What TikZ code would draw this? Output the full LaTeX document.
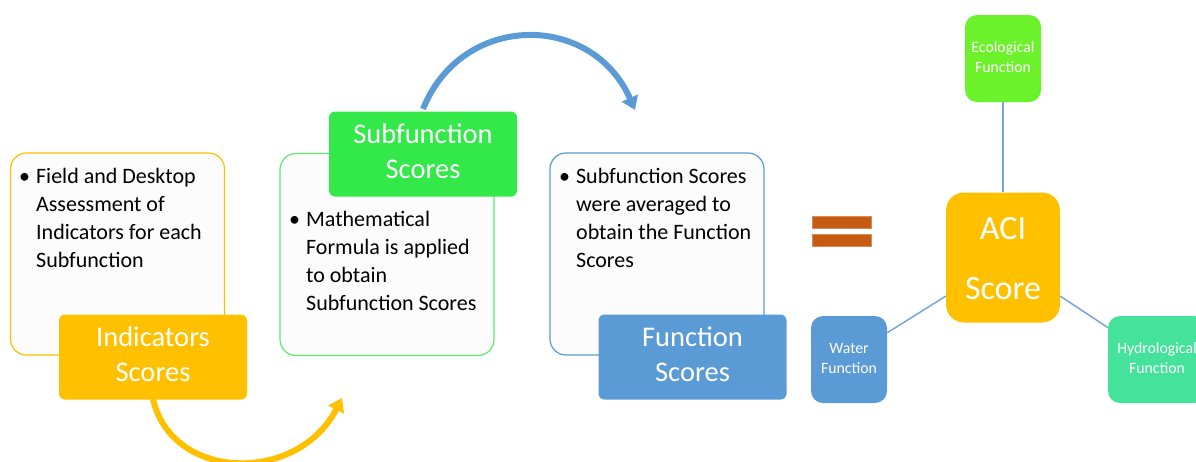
\documentclass[tikz,border=0pt]{standalone}
\usepackage{fontspec}
\setmainfont{Carlito}
\usetikzlibrary{arrows.meta}
\definecolor{cyel}{HTML}{FFC000}
\definecolor{cgreen}{HTML}{33E849}
\definecolor{cgreenline}{HTML}{5BEA6E}
\definecolor{cblue}{HTML}{5B9BD5}
\definecolor{ceco}{HTML}{6BF22A}
\definecolor{chyd}{HTML}{45E29B}
\definecolor{cequal}{HTML}{C55A11}
\definecolor{clink}{HTML}{7BA3D6}
\definecolor{boxfill}{HTML}{FCFCFC}
\begin{document}
\begin{tikzpicture}[x=1pt,y=-1pt,
  txtbox/.style={draw, line width=1.2pt, fill=boxfill, rounded corners=16pt,
    minimum width=214pt, minimum height=202pt, inner sep=0pt},
  bodytext/.style={anchor=base west, inner sep=0pt, font=\fontsize{22}{28}\selectfont, text=black},
  titlebox/.style={rounded corners=6pt, minimum width=188pt, minimum height=85pt,
    inner sep=0pt, text=white, font=\fontsize{28.5}{35}\selectfont},
  smallbox/.style={rounded corners=12pt, minimum width=76pt, minimum height=87pt,
    inner sep=0pt, text=white, font=\fontsize{15.8}{20.5}\selectfont},
  bigarrow/.style={line width=6pt, -{Triangle[width=17pt,length=13pt]}},
  linkline/.style={draw=clink, line width=1.5pt},
  eqbar/.style={fill=cequal, draw=cequal!70!white, line width=0.8pt, minimum width=59pt, minimum height=12pt, inner sep=0pt}
]
\clip (0,0) rectangle (1196,461);

% step 1
\node[txtbox, draw=cyel] (box1) at (117.5,254) {};
\node[bodytext] (t1) at (19,183) {\begin{tabular}[t]{@{}l@{\hspace{6pt}}l@{}}\textbullet & Field and Desktop\\ & Assessment of\\ & Indicators for each\\ & Subfunction\end{tabular}};
\node[titlebox, fill=cyel] (ind) at (153,357) {\begin{tabular}{@{}c@{}}Indicators\\Scores\end{tabular}};

% step 2
\node[txtbox, draw=cgreenline] (box2) at (387,254.5) {};
\node[bodytext] (t2) at (289,226) {\begin{tabular}[t]{@{}l@{\hspace{6pt}}l@{}}\textbullet & Mathematical\\ & Formula is applied\\ & to obtain\\ & Subfunction Scores\end{tabular}};
\node[titlebox, fill=cgreen] (sub) at (423,154) {\begin{tabular}{@{}c@{}}Subfunction\\Scores\end{tabular}};

% step 3
\node[txtbox, draw=cblue] (box3) at (657,254) {};
\node[bodytext] (t3) at (559,183) {\begin{tabular}[t]{@{}l@{\hspace{6pt}}l@{}}\textbullet & Subfunction Scores\\ & were averaged to\\ & obtain the Function\\ & Scores\end{tabular}};
\node[titlebox, fill=cblue] (fun) at (692.5,357) {\begin{tabular}{@{}c@{}}Function\\Scores\end{tabular}};

% arrows
\coordinate (ya) at (153,399);
\coordinate (yb) at (342,398);
\draw[bigarrow, draw=cyel] (ya) .. controls (172,482) and (298,484) .. (yb);
\coordinate (ba) at (423,109);
\coordinate (bb) at (635,110);
\draw[bigarrow, draw=cblue] (ba) .. controls (462,12) and (592,12) .. (bb);

% equals
\node[eqbar] (eq1) at (842,222) {};
\node[eqbar] (eq2) at (842,240) {};

% ACI
\node[rounded corners=18pt, fill=cyel, minimum width=114pt, minimum height=130pt, inner sep=0pt,
  text=white, font=\fontsize{34}{60}\selectfont] (aci) at (1003,257.5) {\begin{tabular}{@{}c@{}}ACI\\Score\end{tabular}};
\node[smallbox, fill=ceco] (eco) at (1003,58.5) {\begin{tabular}{@{}c@{}}Ecological\\Function\end{tabular}};
\node[smallbox, fill=cblue] (wat) at (849,359.5) {\begin{tabular}{@{}c@{}}Water\\Function\end{tabular}};
\node[smallbox, fill=chyd, minimum width=98pt] (hyd) at (1157,359.5) {\begin{tabular}{@{}c@{}}Hydrological\\Function\end{tabular}};

\draw[linkline] (aci.north) -- (eco.south);
\draw[linkline] (wat.35) -- (aci.214);
\draw[linkline] (aci.326) -- (hyd.147);
\end{tikzpicture}
\end{document}
